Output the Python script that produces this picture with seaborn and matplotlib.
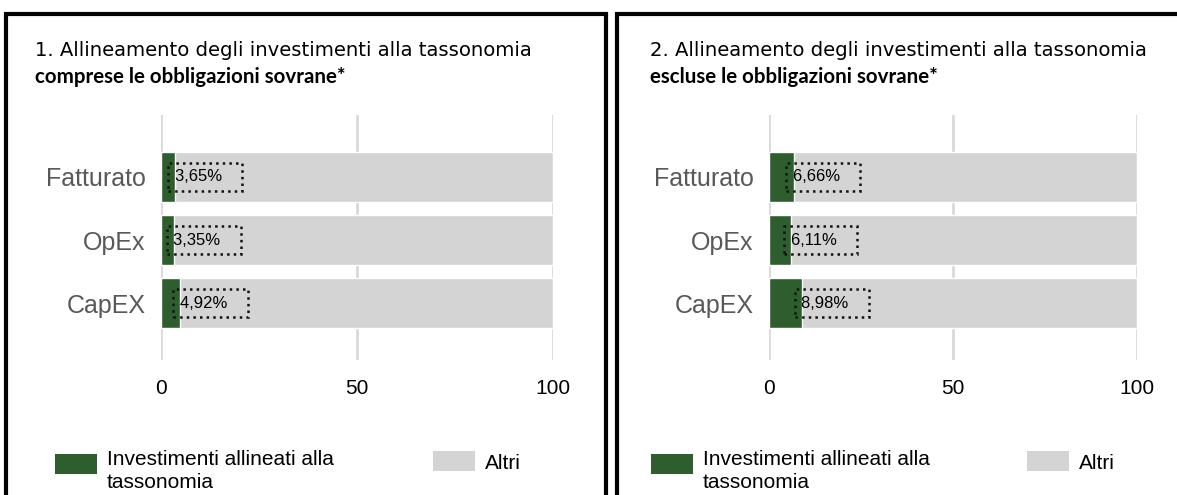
import matplotlib

matplotlib.use("Agg")
import matplotlib.pyplot as plt
from matplotlib.legend_handler import HandlerPatch
from matplotlib.patches import Patch, Rectangle
import seaborn as sns

sns.set_theme(style="white")
plt.rcParams["font.family"] = ["Liberation Sans", "DejaVu Sans"]

# dati
categorie = ["Fatturato", "OpEx", "CapEX"]
comprese = [3.65, 3.35, 4.92]
escluse = [6.66, 6.11, 8.98]
totale = [100, 100, 100]
titoli = [
    ("1. Allineamento degli investimenti alla tassonomia", "comprese le obbligazioni sovrane*"),
    ("2. Allineamento degli investimenti alla tassonomia", "escluse le obbligazioni sovrane*"),
]
legenda = ["Investimenti allineati alla\ntassonomia", "Altri"]
ticks_x = [0, 50, 100]

VERDE = "#2e5e2e"
GRIGIO = "#d4d4d4"

W, H = 1177, 495
fig = plt.figure(figsize=(W / 100, H / 100), dpi=100)


def px(x0, y0, w, h):
    """Rettangolo in pixel (dall'alto) -> coordinate figura."""
    return [x0 / W, 1 - (y0 + h) / H, w / W, h / H]


def patch_prima_riga(legend, orig_handle, xdescent, ydescent, width, height, fontsize):
    # la chiave si allinea alla prima riga dell'etichetta su due righe
    return Rectangle((-xdescent, -ydescent + fontsize * 0.34), width, height)


def pannello(rect, valori, titolo, leg_verde, leg_grigio, tit_x):
    ax = fig.add_axes(rect)
    ax.grid(True, axis="x", color="#d9d9d9", linewidth=2)
    ax.set_axisbelow(True)
    sns.barplot(x=totale, y=categorie, orient="h", color=GRIGIO, width=0.8,
                saturation=1, ax=ax)
    sns.barplot(x=valori, y=categorie, orient="h", color=VERDE, width=0.8,
                saturation=1, ax=ax)
    for i, v in enumerate(valori):
        ax.annotate(
            f"{v:.2f}".replace(".", ",") + "%   ",
            xy=(v, i), xytext=(-0.5, 0), textcoords="offset points",
            ha="left", va="center", fontsize=12, color="black",
            bbox=dict(boxstyle="square,pad=0.4", fc="none", ec="#111111",
                      ls=":", lw=1.8),
        )
    ax.set_xlim(0, 100)
    ax.set_ylim(2.9, -0.98)
    ax.set_xticks(ticks_x)
    ax.set_xticklabels([str(t) for t in ticks_x], fontsize=15, color="black")
    ax.tick_params(axis="x", length=0, pad=14)
    ax.tick_params(axis="y", length=0, pad=11, labelsize=18, labelcolor="#595959")
    ax.set_xlabel("")
    ax.set_ylabel("")
    sns.despine(ax=ax, left=True, bottom=True)

    # titolo su due righe
    fig.text(tit_x / W, 1 - 50 / H, titolo[0], fontsize=14.1, family="DejaVu Sans",
             va="center", ha="left", color="black")
    fig.text(tit_x / W, 1 - 77 / H, titolo[1], fontsize=14.8, weight="bold",
             family=["Lato", "DejaVu Sans"], va="center", ha="left", color="black")

    # legenda: due voci separate
    h_verde = Patch(facecolor=VERDE, edgecolor="none")
    h_grigio = Patch(facecolor=GRIGIO, edgecolor="none")
    opts = dict(frameon=False, fontsize=15, bbox_transform=fig.transFigure,
                handlelength=2.0, handleheight=1.1, handletextpad=0.5,
                borderpad=0, borderaxespad=0)
    leg1 = ax.legend([h_verde], legenda[:1], loc="upper left", bbox_to_anchor=leg_verde,
                     handler_map={h_verde: HandlerPatch(patch_func=patch_prima_riga)},
                     **opts)
    ax.add_artist(leg1)
    leg2 = ax.legend([h_grigio], legenda[1:], loc="center left", bbox_to_anchor=leg_grigio,
                     **opts)
    for leg in (leg1, leg2):
        for t in leg.get_texts():
            t.set_color("black")
            t.set_linespacing(1.25)
    return ax


pannello(px(161, 115, 392, 245), comprese, titoli[0],
         (55 / W, 1 - 450 / H), (433 / W, 1 - 462 / H), 35)
pannello(px(769, 115, 368, 245), escluse, titoli[1],
         (651 / W, 1 - 450 / H), (1027 / W, 1 - 462 / H), 650)

# cornici dei pannelli
for x0, x1 in [(6, 606), (617, 1200)]:
    fig.patches.append(Rectangle((x0 / W, -0.1), (x1 - x0) / W, 1 - 14 / H + 0.1,
                                 transform=fig.transFigure, fill=False,
                                 ec="black", lw=3, zorder=10))

fig.savefig("out.png", dpi=100)
